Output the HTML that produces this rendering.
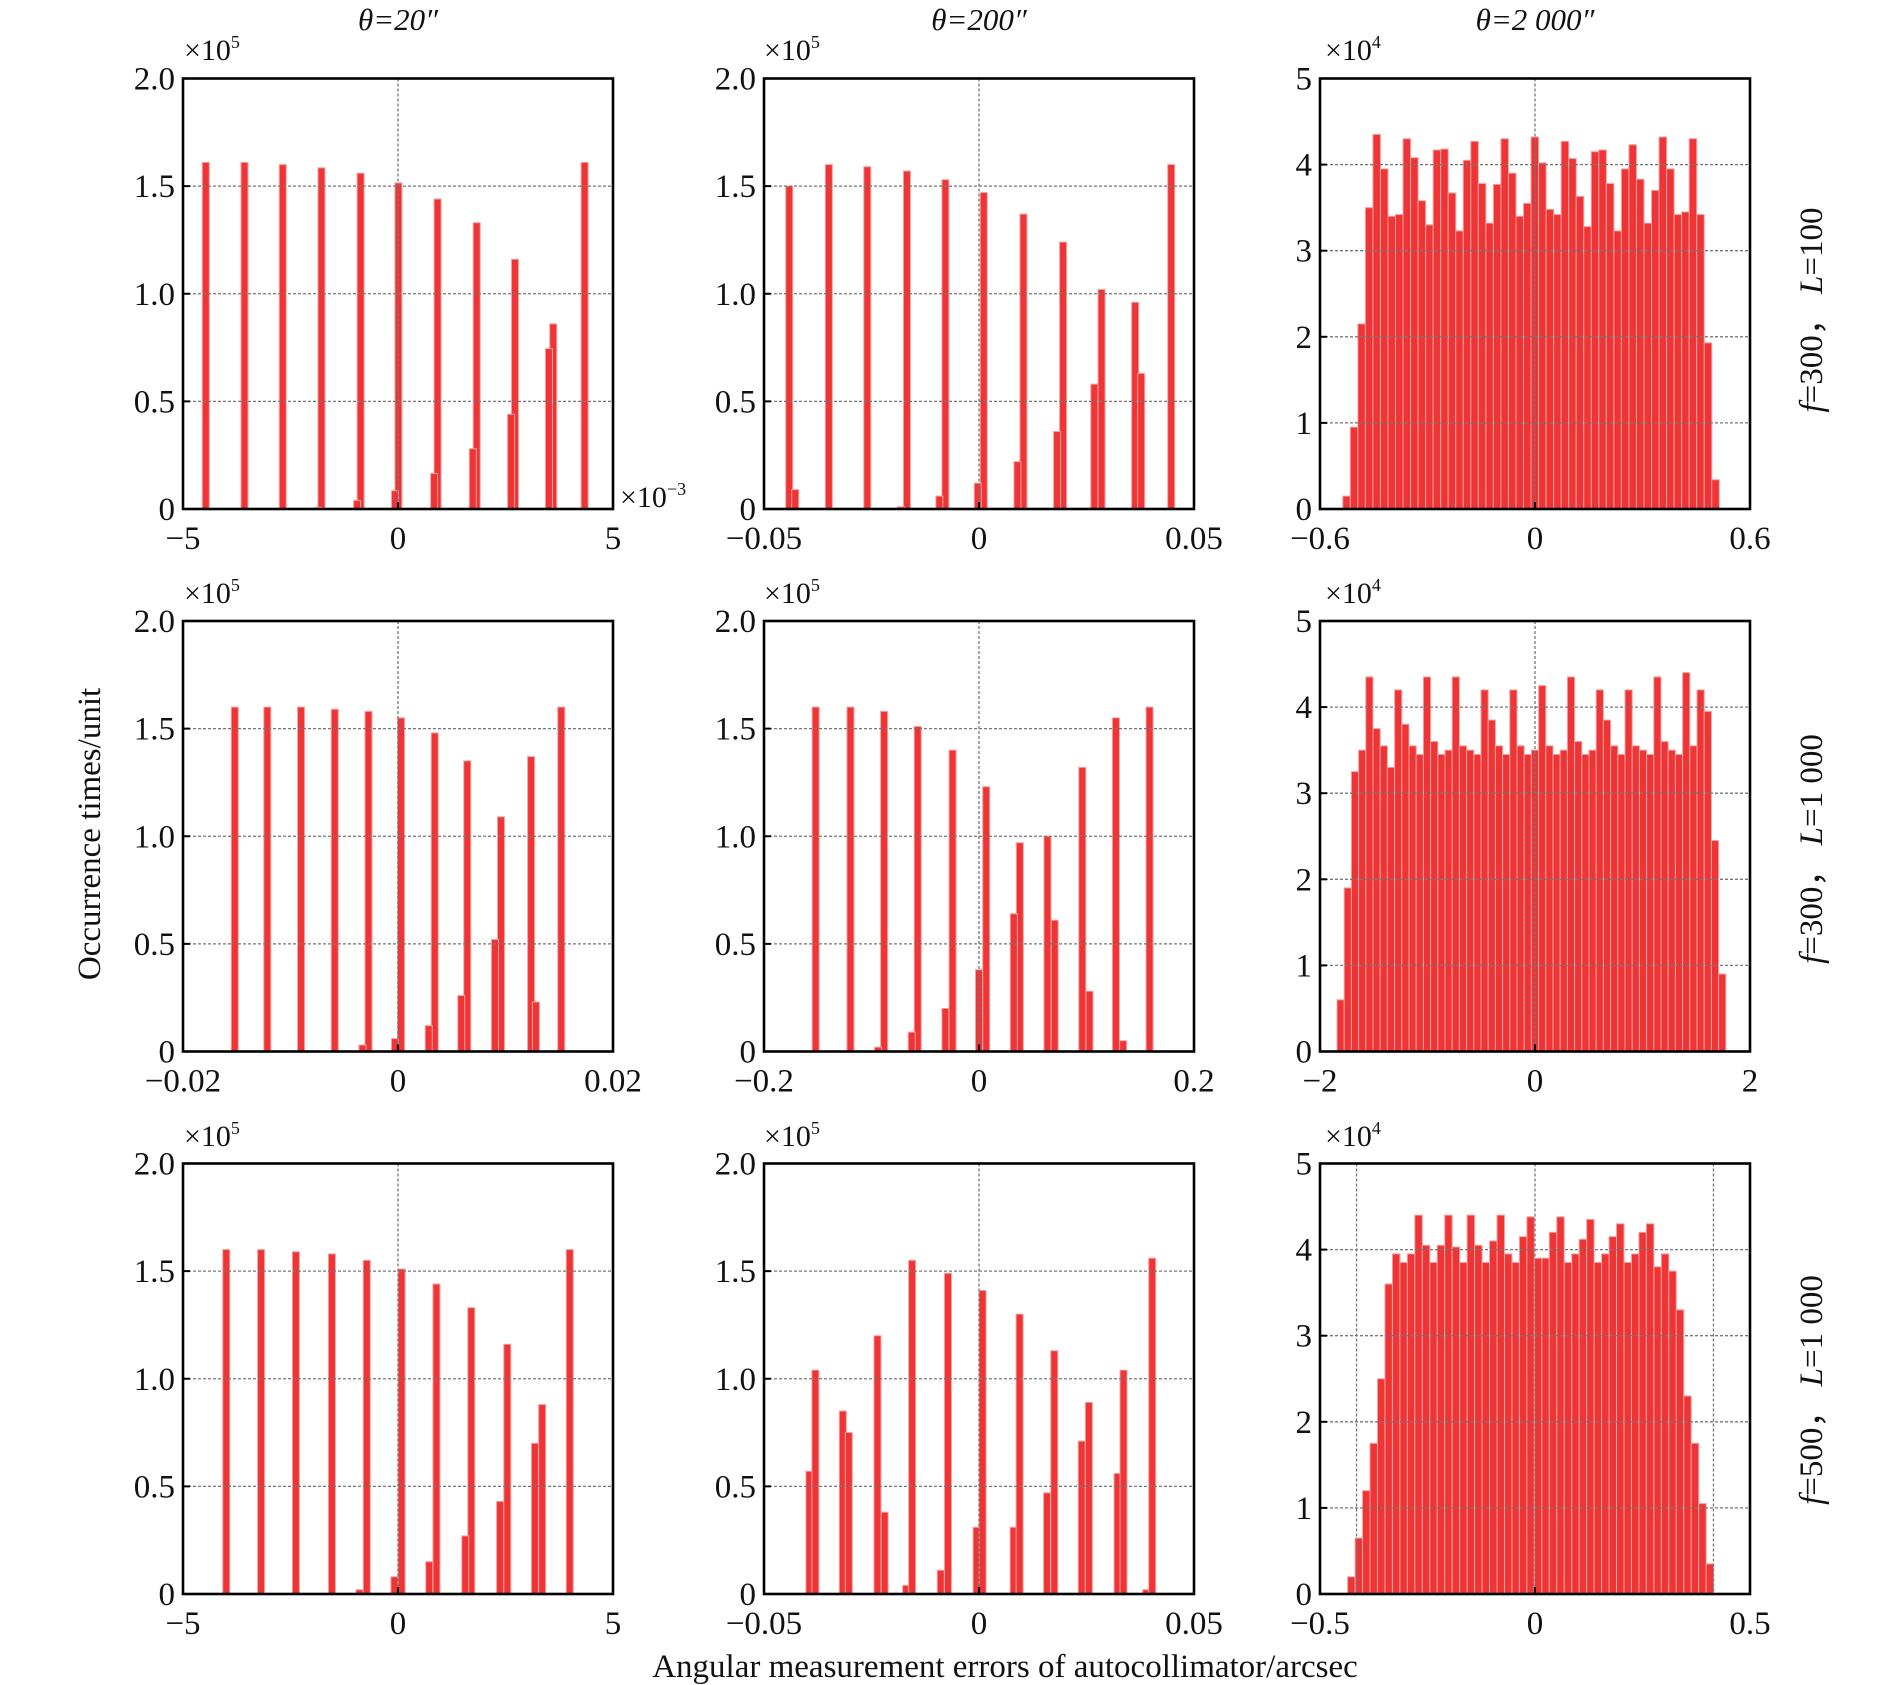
<!DOCTYPE html>
<html><head><meta charset="utf-8"><style>
html,body{margin:0;padding:0;background:#fff;}
svg{display:block;}
text{font-family:"Liberation Serif",serif;fill:#111;}
</style></head><body>
<svg id="s" width="1890" height="1685" viewBox="0 0 1890 1685" xmlns="http://www.w3.org/2000/svg">
<g id="bars"></g>
<g id="frames"></g>
<g font-size="31">
<text x="398" y="30" text-anchor="middle" font-style="italic">θ=20″</text>
<text x="979" y="30" text-anchor="middle" font-style="italic">θ=200″</text>
<text x="1535" y="30" text-anchor="middle" font-style="italic">θ=2 000″</text>
</g>
<g font-size="30">
<text x="184" y="60">×10<tspan font-size="18" dy="-12">5</tspan></text>
<text x="764" y="60">×10<tspan font-size="18" dy="-12">5</tspan></text>
<text x="1325" y="60">×10<tspan font-size="18" dy="-12">4</tspan></text>
<text x="184" y="603">×10<tspan font-size="18" dy="-12">5</tspan></text>
<text x="764" y="603">×10<tspan font-size="18" dy="-12">5</tspan></text>
<text x="1325" y="603">×10<tspan font-size="18" dy="-12">4</tspan></text>
<text x="184" y="1146">×10<tspan font-size="18" dy="-12">5</tspan></text>
<text x="764" y="1146">×10<tspan font-size="18" dy="-12">5</tspan></text>
<text x="1325" y="1146">×10<tspan font-size="18" dy="-12">4</tspan></text>
<text x="620" y="507">×10<tspan font-size="18" dy="-12">−3</tspan></text>
</g>
<g id="ticklabels" font-size="33"></g>
<text x="1005" y="1677" text-anchor="middle" font-size="33">Angular measurement errors of autocollimator/arcsec</text>
<text transform="translate(100,834) rotate(-90)" text-anchor="middle" font-size="33">Occurrence times/unit</text>
<text transform="translate(1822,310) rotate(-90)" text-anchor="middle" font-size="33"><tspan font-style="italic">f</tspan>=300，  <tspan font-style="italic">L</tspan>=100</text>
<text transform="translate(1822,849) rotate(-90)" text-anchor="middle" font-size="33"><tspan font-style="italic">f</tspan>=300，  <tspan font-style="italic">L</tspan>=1 000</text>
<text transform="translate(1822,1390) rotate(-90)" text-anchor="middle" font-size="33"><tspan font-style="italic">f</tspan>=500，  <tspan font-style="italic">L</tspan>=1 000</text>
</svg>
<script>
var NS="http://www.w3.org/2000/svg";
var cols=[183,764,1320], W=430, rows=[78.5,621,1163.5], H=430.5;
var bars=document.getElementById('bars'),fr=document.getElementById('frames'),tl=document.getElementById('ticklabels');
function el(p,t,a,txt){var e=document.createElementNS(NS,t);for(var k in a)e.setAttribute(k,a[k]);if(txt!==undefined)e.textContent=txt;p.appendChild(e);return e;}
function rect(x,y,w,h){el(bars,'rect',{x:x,y:y,width:w,height:h,fill:'#ee3434',stroke:'#f6a0a0','stroke-width':1});}
var xl=[[["−5","0","5"],["−0.05","0","0.05"],["−0.6","0","0.6"]],
[["−0.02","0","0.02"],["−0.2","0","0.2"],["−2","0","2"]],
[["−5","0","5"],["−0.05","0","0.05"],["−0.5","0","0.5"]]];
var thin={
"0,0":{pl:0,pw:1,b:[[.053,1.61],[.143,1.61],[.232,1.6],[.322,1.585],[.413,1.56],[.501,1.515],[.592,1.44],[.683,1.33],[.772,1.16],[.861,.86],[.934,1.61],[.315,.008],[.405,.04],[.493,.085],[.584,.165],[.674,.28],[.763,.44],[.851,.745]]},
"0,1":{pl:630,pw:358,b:[[651,1.5],[684,1.6],[716,1.59],[749,1.57],[781,1.53],[813,1.47],[846,1.37],[879,1.24],[911,1.02],[939,.96],[969,1.6],[656,.09],[744,.01],[776,.06],[808,.12],[841,.22],[874,.36],[905,.58],[944,.63]]},
"1,0":{pl:152,pw:357,b:[[195,1.6],[222,1.6],[250,1.6],[278,1.59],[306,1.58],[333,1.55],[361,1.48],[388,1.35],[416,1.09],[441,1.37],[466,1.6],[301,.03],[328,.06],[356,.12],[383,.26],[411,.52],[445,.23]]},
"1,1":{pl:632,pw:358,b:[[675,1.6],[704,1.6],[732,1.58],[760,1.51],[789,1.4],[817,1.23],[845,.97],[868,1.0],[897,1.32],[925,1.55],[953,1.6],[727,.02],[755,.09],[783,.2],[811,.38],[840,.64],[874,.61],[903,.28],[931,.05]]},
"2,0":{pl:152,pw:358,b:[[188,1.6],[217,1.6],[246,1.59],[276,1.58],[305,1.55],[334,1.51],[363,1.44],[392,1.33],[422,1.16],[451,.88],[474,1.6],[299,.02],[328,.08],[357,.15],[387,.27],[416,.43],[445,.7]]},
"2,1":{pl:630,pw:360,b:[[668,.57],[673,1.04],[696,.85],[701,.75],[725,1.2],[731,.38],[749,.04],[754,1.55],[778,.11],[784,1.49],[808,.31],[813,1.41],[839,.31],[844,1.3],[867,.47],[873,1.13],[896,.71],[902,.89],[926,.56],[931,1.04],[950,.02],[955,1.56]]}
};
var hist=[
{x0:1342.8,w:7.53,h:[0.15,0.95,2.15,3.5,4.35,3.95,3.4,3.42,4.3,4.08,3.58,3.3,4.17,4.18,3.67,3.23,4.05,4.27,3.78,3.32,3.77,4.3,3.9,3.4,3.55,4.32,4.02,3.48,3.42,4.27,4.07,3.63,3.28,4.15,4.17,3.78,3.23,3.95,4.23,3.83,3.32,3.7,4.32,3.95,3.42,3.45,4.3,3.42,1.93,0.34]},
{x0:1337,w:7.2,h:[0.6,1.9,3.25,3.5,4.35,3.75,3.55,3.3,4.2,3.8,3.55,3.45,4.35,3.6,3.45,3.5,4.35,3.55,3.5,3.45,4.2,3.85,3.55,3.45,4.2,3.55,3.45,3.5,4.25,3.55,3.45,3.5,4.35,3.6,3.45,3.5,4.2,3.85,3.55,3.45,4.2,3.55,3.5,3.45,4.35,3.6,3.5,3.45,4.4,3.55,4.2,3.95,2.45,0.9]},
{x0:1347.6,w:7.47,h:[0.2,0.65,1.2,1.75,2.5,3.6,3.95,3.85,3.95,4.4,4.05,3.85,4.05,4.4,4.03,3.85,4.4,4.05,3.85,4.1,4.4,3.95,3.85,4.15,4.38,3.9,3.9,4.2,4.38,3.85,3.95,4.12,4.35,3.85,3.95,4.15,4.3,3.85,3.95,4.2,4.3,3.8,3.95,3.75,3.3,2.3,1.75,1.05,0.35]}];
for(var r=0;r<3;r++)for(var c=0;c<3;c++){
 var L=cols[c],T=rows[r],B=T+H,R=L+W,ymax=(c==2?5:2),n=(c==2?5:4);
 var dash={stroke:'#777','stroke-width':1.3,'stroke-dasharray':'3,2'};
 for(var i=1;i<n;i++){var y=B-H*i/n;var a=Object.assign({x1:L,x2:R,y1:y,y2:y},dash);el(fr,'line',a);}
 el(fr,'line',Object.assign({x1:L+W/2,x2:L+W/2,y1:T,y2:B},dash));
 if(r==2&&c==2){[0.085,0.915].forEach(function(f){el(fr,'line',Object.assign({x1:L+W*f,x2:L+W*f,y1:T,y2:B},dash));});}
 if(c<2){var p=thin[r+","+c];p.b.forEach(function(b){var f=(b[0]-p.pl)/p.pw;var h=b[1]/ymax*H;rect(L+f*W-3.5,B-h,7,h);});}
 else{var hh=hist[r];hh.h.forEach(function(v,i){var h=v/ymax*H;rect(hh.x0+i*hh.w,B-h,hh.w,h);});}
 el(fr,'rect',{x:L,y:T,width:W,height:H,fill:'none',stroke:'#000','stroke-width':2.6});
 for(var i=0;i<=n;i++){var y=B-H*i/n;el(fr,'line',{x1:L,x2:L+7,y1:y,y2:y,stroke:'#000','stroke-width':2});
  var lab=(c==2)?String(i):(i==0?"0":(i*0.5).toFixed(1));
  el(tl,'text',{x:L-8,y:y+11,'text-anchor':'end'},lab);}
 el(fr,'line',{x1:L+W/2,x2:L+W/2,y1:B,y2:B-7,stroke:'#000','stroke-width':2});
 var ys=B+40;var lx=xl[r][c];
 el(tl,'text',{x:L,y:ys,'text-anchor':'middle'},lx[0]);
 el(tl,'text',{x:L+W/2,y:ys,'text-anchor':'middle'},lx[1]);
 el(tl,'text',{x:R,y:ys,'text-anchor':'middle'},lx[2]);
}
</script>
</body></html>
